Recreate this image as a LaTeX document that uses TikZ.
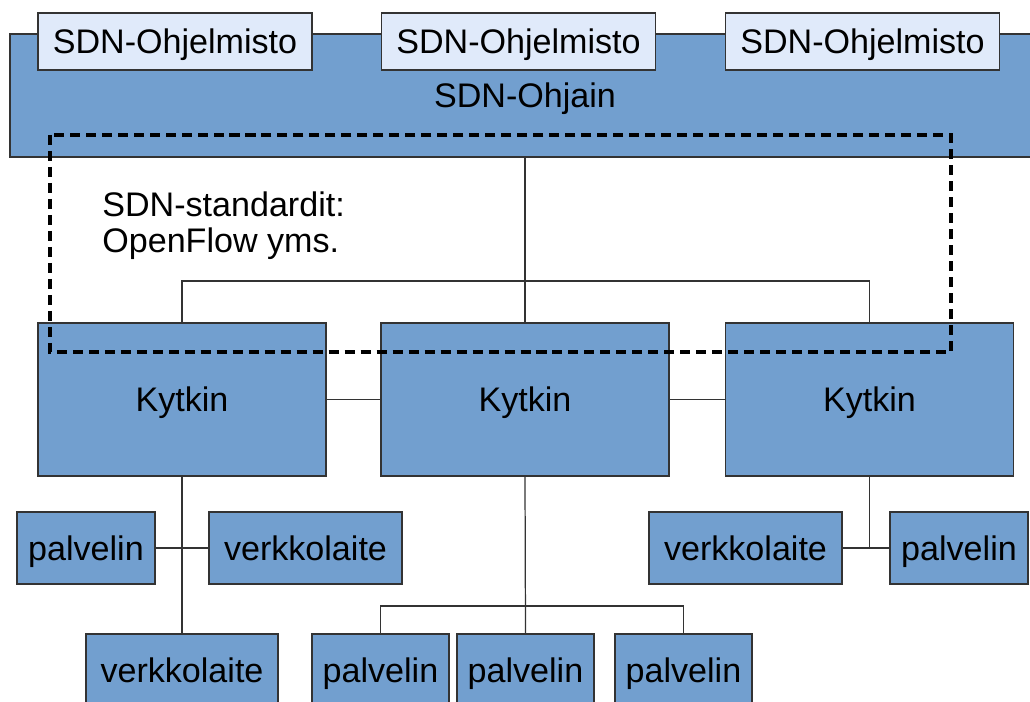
\documentclass[tikz,border=0pt]{standalone}
\usepackage{fontspec}
\setmainfont{Liberation Sans}
\usepackage{tikz}
\usetikzlibrary{positioning}

\definecolor{sdnblue}{HTML}{729FCF}
\definecolor{sdnpale}{HTML}{E0EAFA}
\definecolor{sdnline}{HTML}{333333}
\newdimen\px
\px=0.02cm

\tikzset{
  laite/.style={draw=sdnline,line width=0.8pt,fill=sdnblue,inner sep=0pt,
    text height=13.9pt,text depth=0pt,minimum height=72\px,text=black},
  kytkin/.style={laite,minimum width=288\px,minimum height=153\px},
  ohjelma/.style={laite,fill=sdnpale,minimum width=274\px,minimum height=57\px},
  linkki/.style={draw=sdnline,line width=0.7pt}
}

\begin{document}
\begin{tikzpicture}[x=0.02cm,y=-0.02cm,font=\fontsize{19.4}{20.5}\selectfont]
\clip (0,0) rectangle (1030,702);
\fill[white] (0,0) rectangle (1030,702);

% ohjain ja ohjelmistot
\node[laite,minimum width=1030\px,minimum height=123\px] (ohjain) at (525,95.5) {SDN-Ohjain};
\node[ohjelma] (ohj1) at (175,41.5) {SDN-Ohjelmisto};
\node[ohjelma] (ohj2) at (518.5,41.5) {SDN-Ohjelmisto};
\node[ohjelma] (ohj3) at (862.5,41.5) {SDN-Ohjelmisto};

% kytkimet
\node[kytkin] (kyt1) at (182,399.5) {Kytkin};
\node[kytkin] (kyt2) at (525,399.5) {Kytkin};
\node[kytkin] (kyt3) at (869.5,399.5) {Kytkin};

% laitteet
\node[laite,minimum width=138\px] (palv1) at (86,548) {palvelin};
\node[laite,minimum width=193\px] (verk1) at (305.5,548) {verkkolaite};
\node[laite,minimum width=192\px] (verk2) at (182,670) {verkkolaite};
\node[laite,minimum width=137\px] (palv2) at (380.5,670) {palvelin};
\node[laite,minimum width=137\px] (palv3) at (525.5,670) {palvelin};
\node[laite,minimum width=137\px] (palv4) at (683.5,670) {palvelin};
\node[laite,minimum width=193\px] (verk3) at (745.5,548) {verkkolaite};
\node[laite,minimum width=138\px] (palv5) at (959,548) {palvelin};

\coordinate (vayla) at (525,281);
\coordinate (vayla2) at (525,606);

\draw[linkki] (ohjain.south) -- (kyt2.north);
\draw[linkki] (kyt1.north) |- (vayla) -| (kyt3.north);
\draw[linkki] (kyt1.east) -- (kyt2.west);
\draw[linkki] (kyt2.east) -- (kyt3.west);
\draw[linkki] (kyt1.south) -- (verk2.north);
\draw[linkki] (palv1.east) -- (verk1.west);
\draw[linkki] (kyt2.south) -- (palv3.north);
\draw[linkki] (palv2.north) |- (vayla2) -| (palv4.north);
\draw[linkki] (kyt3.south) -- (kyt3.south |- verk3.east);
\draw[linkki] (verk3.east) -- (palv5.west);

% standardit
\node[anchor=base west,align=left,inner sep=0pt] (std) at (102,253) {SDN-standardit:\\OpenFlow yms.};
\draw[line width=2.3pt,dash pattern=on 5.7pt off 3.4pt] (50,135) rectangle (951,352);
\end{tikzpicture}
\end{document}
